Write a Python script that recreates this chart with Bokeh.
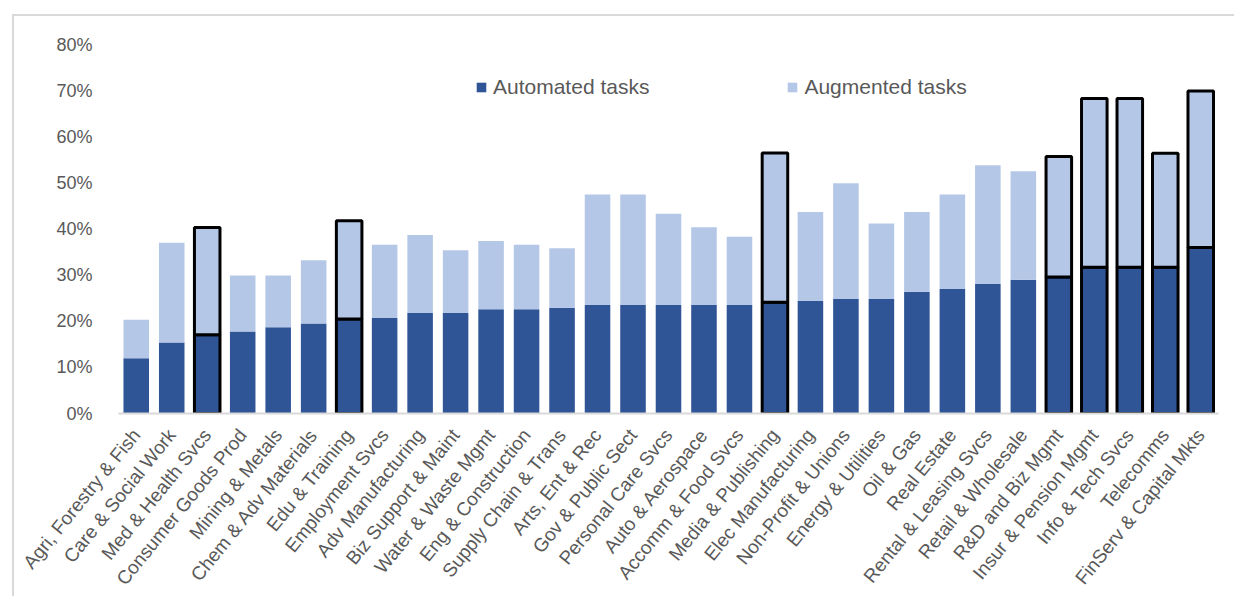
import math
from bokeh.plotting import figure
from bokeh.models import ColumnDataSource, FactorRange, Range1d, Legend, LegendItem, PrintfTickFormatter, FixedTicker
from bokeh.embed import file_html
from bokeh.resources import INLINE

categories = [
    "Agri, Forestry & Fish", "Care & Social Work", "Med & Health Svcs", "Consumer Goods Prod",
    "Mining & Metals", "Chem & Adv Materials", "Edu & Training", "Employment Svcs",
    "Adv Manufacturing", "Biz Support & Maint", "Water & Waste Mgmt", "Eng & Construction",
    "Supply Chain & Trans", "Arts, Ent & Rec", "Gov & Public Sect", "Personal Care Svcs",
    "Auto & Aerospace", "Accomm & Food Svcs", "Media & Publishing", "Elec Manufacturing",
    "Non-Profit & Unions", "Energy & Utilities", "Oil & Gas", "Real Estate",
    "Rental & Leasing Svcs", "Retail & Wholesale", "R&D and Biz Mgmt", "Insur & Pension Mgmt",
    "Info & Tech Svcs", "Telecomms", "FinServ & Capital Mkts",
]
automated = [12.0, 15.4, 17.1, 17.8, 18.7, 19.5, 20.5, 20.7, 21.8, 21.8, 22.6, 22.6,
             22.9, 23.5, 23.5, 23.5, 23.5, 23.5, 24.1, 24.4, 24.8, 24.8, 26.4, 27.0,
             28.1, 29.0, 29.6, 31.7, 31.7, 31.7, 36.0]
augmented = [8.3, 21.6, 23.2, 12.1, 11.2, 13.7, 21.3, 15.9, 16.9, 13.6, 14.8, 14.0,
             12.9, 24.0, 24.0, 19.8, 16.9, 14.8, 32.4, 19.3, 25.1, 16.4, 17.3, 20.5,
             25.7, 23.5, 26.1, 36.6, 36.6, 24.7, 33.9]
highlighted = ["Med & Health Svcs", "Edu & Training", "Media & Publishing", "R&D and Biz Mgmt",
               "Insur & Pension Mgmt", "Info & Tech Svcs", "Telecomms", "FinServ & Capital Mkts"]
y_ticks = [0, 10, 20, 30, 40, 50, 60, 70, 80]

DARK = "#2F5597"
LIGHT = "#B4C7E7"
TEXT = "#595959"
FONT = "Liberation Sans"

total = [a + b for a, b in zip(automated, augmented)]
line_alpha = [1.0 if c in highlighted else 0.0 for c in categories]
source = ColumnDataSource(dict(
    cat=categories, auto=automated, aug=augmented, total=total,
    zero=[0] * len(categories), la=line_alpha,
))

p = figure(
    x_range=FactorRange(factors=categories, range_padding=0),
    y_range=Range1d(0, 80),
    width=1222, height=582,
    output_backend="svg", toolbar_location=None,
    min_border_left=104, min_border_right=18, min_border_top=28, min_border_bottom=184,
)
p.margin = (14, 0, 0, 12)
p.styles = {"border-top": "2px solid #d9d9d9", "border-left": "2px solid #d9d9d9"}
p.outline_line_color = None
p.xgrid.grid_line_color = None
p.ygrid.grid_line_color = None
p.background_fill_color = "white"
p.border_fill_color = "white"

r1 = p.vbar(x="cat", bottom="zero", top="auto", width=0.72, source=source,
            fill_color=DARK, line_color="black", line_alpha="la", line_width=3)
r2 = p.vbar(x="cat", bottom="auto", top="total", width=0.72, source=source,
            fill_color=LIGHT, line_color="black", line_alpha="la", line_width=3)

p.yaxis.ticker = FixedTicker(ticks=y_ticks)
p.yaxis.formatter = PrintfTickFormatter(format="%d%%")
p.yaxis.axis_line_color = None
p.yaxis.major_tick_line_color = None
p.yaxis.minor_tick_line_color = None
p.yaxis.major_label_standoff = 20
p.yaxis.major_label_text_font = FONT
p.yaxis.major_label_text_font_size = "18px"
p.yaxis.major_label_text_color = TEXT

p.xaxis.axis_line_color = "#d9d9d9"
p.xaxis.axis_line_width = 2
p.xaxis.major_tick_line_color = None
p.xaxis.minor_tick_line_color = None
p.xaxis.major_label_orientation = math.radians(51)
p.xaxis.major_label_standoff = 12
p.xaxis.major_label_text_font = FONT
p.xaxis.major_label_text_font_size = "19px"
p.xaxis.major_label_text_color = TEXT

legend = Legend(
    items=[LegendItem(label="Automated tasks", renderers=[r1]),
           LegendItem(label="Augmented tasks", renderers=[r2])],
    orientation="horizontal", location=(357, 314),
    glyph_width=12, glyph_height=12, label_standoff=6, spacing=137,
    padding=0, margin=0, border_line_color=None, background_fill_alpha=0,
    label_text_font=FONT, label_text_font_size="21px", label_text_color=TEXT,
    label_height=21,
)
p.add_layout(legend, "center")

open("out.html", "w").write(file_html(p, INLINE))
